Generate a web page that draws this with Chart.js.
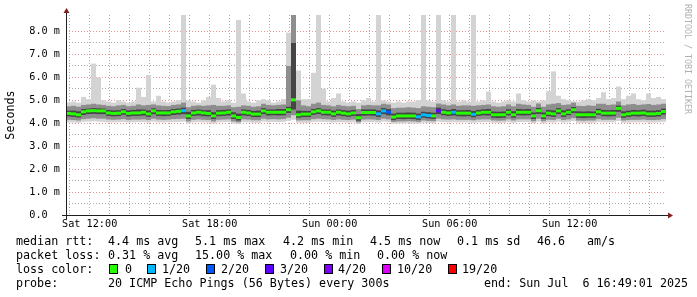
<!DOCTYPE html>
<html>
<head>
<meta charset="utf-8">
<script src="https://cdn.jsdelivr.net/npm/chart.js@4.4.1/dist/chart.umd.min.js"></script>
<style>
html,body{margin:0;padding:0;background:#fff;}
#wrap{position:relative;width:697px;height:297px;overflow:hidden;background:#fff;}
#c{position:absolute;left:0;top:0;}
.t{position:absolute;font-family:"DejaVu Sans Mono",monospace;font-size:11.7px;line-height:14px;color:#000;white-space:pre;}
.sw{position:absolute;width:7px;height:8px;border:1px solid #000;}
#wm{position:absolute;left:683px;top:4px;font-family:"DejaVu Sans Mono",monospace;font-size:8.3px;line-height:10px;color:#b0b0b0;writing-mode:vertical-rl;white-space:pre;}
</style>
</head>
<body>
<div id="wrap">
<canvas id="c" width="697" height="297"></canvas>
<div id="legend"></div>
<div id="wm">RRDTOOL / TOBI OETIKER</div>
</div>
<script>
// ---- time axis (hours since Sat 00:00) ----
const startHour = 10 + 49 / 60;   // Sat 10:49
const stepHours = 0.25;           // one column = 15 minutes
const xTickHours = [12, 18, 24, 30, 36];
const xTickLabels = ['Sat 12:00', 'Sat 18:00', 'Sun 00:00', 'Sun 06:00', 'Sun 12:00'];
const yTickValues = [0, 1, 2, 3, 4, 5, 6, 7, 8];
const yTickLabels = ['0.0  ', '1.0 m', '2.0 m', '3.0 m', '4.0 m', '5.0 m', '6.0 m', '7.0 m', '8.0 m'];

// ---- median rtt (ms) ----
const medianRtt = [
4.43,4.41,4.37,4.50,4.54,4.55,4.54,4.54,4.45,4.43,
4.44,4.50,4.43,4.45,4.45,4.48,4.41,4.54,4.45,4.45,
4.45,4.50,4.52,4.55,4.32,4.45,4.48,4.45,4.43,4.32,
4.44,4.45,4.48,4.32,4.25,4.48,4.45,4.40,4.40,4.54,
4.48,4.48,4.48,4.48,4.59,5.02,4.37,4.40,4.40,4.50,
4.54,4.48,4.48,4.41,4.48,4.44,4.41,4.45,4.24,4.47,
4.47,4.47,4.41,4.54,4.48,4.27,4.32,4.32,4.32,4.32,
4.28,4.37,4.34,4.32,4.54,4.48,4.45,4.48,4.44,4.44,
4.44,4.39,4.45,4.48,4.48,4.37,4.37,4.37,4.48,4.37,
4.48,4.48,4.48,4.32,4.55,4.32,4.44,4.41,4.54,4.41,
4.48,4.59,4.37,4.37,4.37,4.37,4.50,4.44,4.44,4.44,
4.65,4.37,4.41,4.44,4.44,4.45,4.41,4.41,4.43,4.51];

// ---- lost pings out of 20 ----
const lossCount = [
0,0,0,0,0,0,0,0,0,0, 0,0,0,0,0,0,0,0,0,0,
0,0,0,1,0,0,0,0,0,0, 0,0,0,0,0,0,0,0,0,0,
0,0,0,0,0,0,0,0,0,0, 0,0,0,0,0,0,0,0,0,0,
0,0,1,1,2,0,0,0,0,0, 1,1,1,0,3,0,0,1,0,0,
0,1,0,0,0,0,0,0,0,0, 0,0,0,0,0,0,0,0,0,0,
0,0,0,0,0,0,0,0,0,0, 0,0,0,0,0,0,0,0,0,0];

// ---- smoke: slowest / fastest ping ----
const maxRtt = [
4.90,4.95,4.90,5.15,5.05,6.60,6.00,5.00,4.95,4.90,
5.00,4.95,4.90,4.95,5.55,5.15,6.10,4.95,5.20,4.95,
4.90,4.95,5.00,8.80,5.00,4.95,4.90,5.00,5.15,5.68,
5.10,4.95,5.00,4.90,8.50,5.30,4.95,4.90,5.00,5.05,
5.00,4.90,4.95,5.05,7.95,8.80,6.30,5.05,5.05,6.20,
8.80,5.50,4.95,5.10,5.30,4.95,4.90,4.95,4.90,5.00,
5.10,4.95,8.80,5.00,4.95,4.90,4.95,4.90,4.95,4.95,
5.00,8.80,5.00,4.95,8.80,5.00,4.95,8.80,4.95,5.00,
4.95,8.80,4.95,5.00,5.38,4.95,4.90,4.95,5.00,4.95,
5.30,5.00,4.95,5.00,4.95,5.00,5.40,6.26,5.20,5.05,
5.00,4.95,4.95,5.00,5.05,5.00,5.10,5.35,5.05,5.10,
5.60,5.05,5.20,5.30,5.05,5.00,5.30,5.10,5.15,5.05];
const minRtt = [
4.04,4.03,4.02,4.06,4.07,4.08,4.07,4.06,4.04,4.04,
4.05,4.06,4.03,4.04,4.05,4.05,4.03,4.07,4.04,4.04,
4.05,4.06,4.06,4.07,3.99,4.04,4.05,4.04,4.03,3.99,
4.04,4.05,4.05,3.99,3.96,4.05,4.04,4.02,4.02,4.07,
4.05,4.06,4.05,4.06,4.10,4.15,4.02,4.02,4.02,4.06,
4.07,4.06,4.05,4.03,4.05,4.04,4.03,4.04,3.96,4.05,
4.05,4.05,4.03,4.07,4.05,3.98,3.99,3.99,4.00,3.99,
3.98,4.02,4.01,4.00,4.07,4.05,4.04,4.05,4.04,4.04,
4.04,4.02,4.04,4.05,4.05,4.02,4.01,4.02,4.05,4.02,
4.05,4.05,4.05,4.00,4.07,4.00,4.04,4.03,4.07,4.03,
4.05,4.09,4.02,4.01,4.02,4.02,4.06,4.04,4.04,4.04,
4.10,4.02,4.03,4.04,4.04,4.05,4.03,4.03,4.04,4.06];

// ---- smoke: middle band of pings ----
const smokeMidHi = [
4.74,4.76,4.72,4.80,4.82,4.85,4.82,4.80,4.76,4.74,
4.78,4.80,4.74,4.76,4.82,4.78,4.80,4.82,4.78,4.76,
4.75,4.80,4.82,4.90,4.70,4.76,4.78,4.76,4.78,4.80,
4.76,4.76,4.78,4.70,4.72,4.78,4.76,4.72,4.74,4.85,
4.80,4.78,4.80,4.82,6.50,8.80,5.00,4.78,4.74,4.85,
4.90,4.80,4.78,4.74,4.80,4.76,4.74,4.76,4.62,4.78,
4.80,4.78,4.78,4.85,4.82,4.66,4.68,4.68,4.70,4.68,
4.66,4.74,4.72,4.70,4.86,4.82,4.78,4.82,4.76,4.78,
4.78,4.76,4.78,4.80,4.82,4.74,4.72,4.74,4.82,4.74,
4.85,4.82,4.80,4.72,4.86,4.72,4.82,4.85,4.88,4.80,
4.82,4.90,4.76,4.75,4.78,4.76,4.85,4.85,4.80,4.82,
4.95,4.78,4.82,4.84,4.80,4.82,4.84,4.80,4.82,4.85];
const smokeMidLo = [
4.15,4.14,4.12,4.18,4.20,4.22,4.20,4.20,4.16,4.15,
4.16,4.18,4.14,4.16,4.16,4.17,4.14,4.20,4.16,4.15,
4.16,4.18,4.19,4.20,4.08,4.15,4.17,4.15,4.14,4.08,
4.15,4.16,4.17,4.08,4.04,4.17,4.16,4.13,4.13,4.20,
4.17,4.18,4.17,4.18,4.24,4.35,4.12,4.13,4.13,4.18,
4.20,4.18,4.17,4.14,4.17,4.15,4.14,4.16,4.04,4.16,
4.17,4.16,4.14,4.20,4.17,4.06,4.08,4.08,4.09,4.08,
4.06,4.12,4.10,4.09,4.20,4.17,4.16,4.17,4.15,4.15,
4.15,4.13,4.16,4.17,4.17,4.12,4.11,4.12,4.17,4.12,
4.17,4.17,4.17,4.09,4.20,4.09,4.15,4.14,4.20,4.14,
4.17,4.22,4.12,4.11,4.12,4.12,4.18,4.15,4.15,4.15,
4.24,4.12,4.14,4.15,4.15,4.16,4.14,4.14,4.15,4.18];

// ---- smoke: core band around the median ----
const smokeCoreHi = [
4.55,4.55,4.52,4.62,4.64,4.66,4.65,4.64,4.58,4.56,
4.57,4.62,4.56,4.58,4.60,4.60,4.56,4.65,4.58,4.57,
4.58,4.62,4.64,4.68,4.50,4.58,4.60,4.57,4.57,4.48,
4.57,4.58,4.60,4.48,4.42,4.60,4.58,4.54,4.55,4.66,
4.60,4.60,4.62,4.62,4.72,7.50,4.55,4.54,4.54,4.62,
4.66,4.60,4.60,4.55,4.60,4.57,4.55,4.58,4.40,4.60,
4.60,4.60,4.56,4.66,4.62,4.42,4.46,4.46,4.47,4.46,
4.42,4.50,4.48,4.46,4.68,4.61,4.58,4.62,4.57,4.57,
4.58,4.53,4.58,4.61,4.62,4.51,4.50,4.51,4.61,4.52,
4.62,4.61,4.62,4.47,4.67,4.47,4.58,4.56,4.66,4.56,
4.61,4.71,4.52,4.51,4.52,4.51,4.63,4.58,4.57,4.58,
4.77,4.52,4.55,4.58,4.57,4.59,4.55,4.55,4.57,4.64];
const smokeCoreLo = [
4.30,4.28,4.25,4.36,4.40,4.41,4.40,4.40,4.32,4.30,
4.31,4.37,4.30,4.32,4.32,4.34,4.28,4.40,4.32,4.31,
4.32,4.36,4.38,4.40,4.19,4.32,4.34,4.31,4.30,4.19,
4.31,4.32,4.34,4.19,4.12,4.34,4.32,4.27,4.27,4.40,
4.34,4.35,4.34,4.35,4.45,4.60,4.24,4.27,4.27,4.37,
4.40,4.35,4.34,4.28,4.34,4.31,4.28,4.32,4.11,4.33,
4.34,4.33,4.28,4.40,4.35,4.14,4.19,4.18,4.19,4.18,
4.15,4.24,4.21,4.19,4.40,4.35,4.32,4.34,4.31,4.30,
4.31,4.26,4.32,4.35,4.34,4.24,4.23,4.24,4.35,4.24,
4.35,4.34,4.35,4.19,4.41,4.19,4.31,4.28,4.40,4.28,
4.35,4.45,4.24,4.23,4.24,4.24,4.37,4.31,4.30,4.31,
4.50,4.24,4.28,4.31,4.30,4.32,4.28,4.28,4.30,4.38];

// ---- loss colour scale ----
const lossSteps = [0, 1, 2, 3, 4, 10, 19];
const lossLabels = ['0', '1/20', '2/20', '3/20', '4/20', '10/20', '19/20'];
const lossColors = ['#26ff00', '#00b8ff', '#0059ff', '#5e00ff', '#7e00ff', '#dd00ff', '#ff0000'];

function lossColor(n) {
  let c = lossColors[0];
  for (let k = 0; k < lossSteps.length; k++) if (n >= lossSteps[k]) c = lossColors[k];
  return c;
}

const times = medianRtt.map((_, i) => startHour + stepHours * (i + 0.5));
const xMin = startHour;
const xMax = startHour + stepHours * medianRtt.length;
const band = (lo, hi) => lo.map((l, i) => ({x: times[i], y: [l, hi[i]]}));

const MONO = '"DejaVu Sans Mono", monospace';
const GRID = 'rgba(143,143,143,0.75)';
const MGRID = 'rgba(222,79,79,0.6)';

const barStyle = {type: 'bar', borderWidth: 0, inflateAmount: 0, barPercentage: 1, categoryPercentage: 1, grouped: false, clip: 0};

const rrdAxes = {
  id: 'rrdAxes',
  afterDraw(chart) {
    const {ctx, chartArea: {left, right, top, bottom}} = chart;
    ctx.save();
    ctx.strokeStyle = '#1f1f1f';
    ctx.lineWidth = 1;
    ctx.beginPath();
    ctx.moveTo(left - 4, bottom + 0.5);
    ctx.lineTo(right + 4, bottom + 0.5);
    ctx.moveTo(left + 0.5, bottom + 4);
    ctx.lineTo(left + 0.5, top - 4);
    ctx.stroke();
    ctx.fillStyle = '#801f1f';
    ctx.beginPath();
    ctx.moveTo(right + 2, bottom + 0.5 - 3);
    ctx.lineTo(right + 2, bottom + 0.5 + 3);
    ctx.lineTo(right + 7, bottom + 0.5);
    ctx.closePath();
    ctx.fill();
    ctx.beginPath();
    ctx.moveTo(left + 0.5 - 3, top - 2);
    ctx.lineTo(left + 0.5 + 3, top - 2);
    ctx.lineTo(left + 0.5, top - 7);
    ctx.closePath();
    ctx.fill();
    ctx.restore();
  }
};

new Chart(document.getElementById('c'), {
  type: 'bar',
  data: {
    datasets: [
      {type: 'scatter', data: medianRtt.map((v, i) => ({x: times[i], y: v})), showLine: false,
       pointStyle: 'line', pointRadius: 2.5, pointBorderWidth: 3,
       pointBorderColor: ctx => lossColor(lossCount[ctx.dataIndex]), order: 0, clip: 0},
      Object.assign({data: band(smokeCoreLo, smokeCoreHi), backgroundColor: '#454545', order: 1}, barStyle),
      Object.assign({data: band(smokeMidLo, smokeMidHi), backgroundColor: '#8e8e8e', order: 2}, barStyle),
      Object.assign({data: band(minRtt, maxRtt), backgroundColor: '#d3d3d3', order: 3}, barStyle)
    ]
  },
  options: {
    responsive: false,
    animation: false,
    events: [],
    layout: {padding: {left: 0, top: 15, right: 31, bottom: 62}},
    plugins: {legend: {display: false}, tooltip: {enabled: false}},
    scales: {
      x: {
        type: 'linear', min: xMin, max: xMax, offset: false, z: 1,
        afterBuildTicks: axis => {
          const t = [];
          for (let h = Math.ceil(xMin); h <= Math.floor(xMax); h++) t.push({value: h});
          axis.ticks = t;
        },
        afterFit: s => { s.height = 20; },
        grid: {offset: false, drawTicks: false, lineWidth: 1,
               color: c => (c.tick && c.tick.value % 3 === 0) ? MGRID : GRID},
        border: {display: false, dash: [1, 2]},
        ticks: {autoSkip: false, maxRotation: 0, padding: 3, color: '#000',
                font: {family: MONO, size: 10.2},
                callback: v => { const k = xTickHours.indexOf(v); return k >= 0 ? xTickLabels[k] : ''; }}
      },
      y: {
        type: 'linear', min: 0, max: 8.72, z: 1,
        afterBuildTicks: axis => { axis.ticks = axis.ticks.filter(t => Math.abs(t.value * 2 - Math.round(t.value * 2)) < 1e-6); },
        afterFit: s => { s.width = 66; },
        grid: {drawTicks: false, lineWidth: 1,
               color: c => (c.tick && Number.isInteger(c.tick.value)) ? MGRID : GRID},
        border: {display: false, dash: [1, 2]},
        title: {display: true, text: 'Seconds', color: '#000', padding: {top: 4, bottom: 0},
                font: {family: MONO, size: 11.7}},
        ticks: {autoSkip: false, stepSize: 0.5, padding: 6, color: '#000',
                font: {family: MONO, size: 10.2},
                callback: v => { const k = yTickValues.indexOf(v); return k >= 0 ? yTickLabels[k] : ''; }}
      }
    }
  },
  plugins: [rrdAxes]
});

// ---- text legend below the graph ----
const legendRows = [
  [[16, 'median rtt:'], [108, '4.4 ms avg'], [195, '5.1 ms max'], [283, '4.2 ms min'], [370, '4.5 ms now'], [457, '0.1 ms sd'], [537, '46.6'], [587, 'am/s']],
  [[16, 'packet loss:'], [108, '0.31 % avg'], [195, '15.00 % max'], [290, '0.00 % min'], [377, '0.00 % now']],
  [[16, 'loss color:']],
  [[16, 'probe:'], [108, '20 ICMP Echo Pings (56 Bytes) every 300s'], [484, 'end: Sun Jul  6 16:49:01 2025']]
];
const rowTop = [234, 248, 262, 276];
const swatchX = [109, 147, 206, 265, 324, 382, 448];
const lossTextX = [125, 162, 221, 280, 338, 397, 462];
const lg = document.getElementById('legend');
function addText(x, y, s) {
  const d = document.createElement('div');
  d.className = 't'; d.style.left = x + 'px'; d.style.top = y + 'px'; d.textContent = s;
  lg.appendChild(d);
}
legendRows.forEach((row, r) => row.forEach(([x, s]) => addText(x, rowTop[r], s)));
lossLabels.forEach((s, k) => {
  const b = document.createElement('div');
  b.className = 'sw'; b.style.left = swatchX[k] + 'px'; b.style.top = (rowTop[2] + 2) + 'px';
  b.style.background = lossColors[k];
  lg.appendChild(b);
  addText(lossTextX[k], rowTop[2], s);
});
</script>
</body>
</html>
